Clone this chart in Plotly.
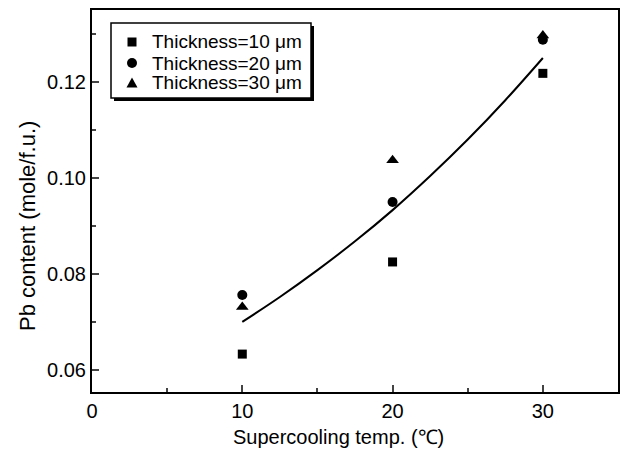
import plotly.graph_objects as go

temps = [10, 20, 30]
pb_10um = [0.0633, 0.0825, 0.1218]
pb_20um = [0.0756, 0.0950, 0.1288]
pb_30um = [0.0731, 0.1037, 0.1297]

fit_x = [10, 12.5, 15, 17.5, 20, 22.5, 25, 27.5, 30]
fit_y = [0.0700, 0.0752, 0.0808, 0.0868, 0.0933, 0.1004, 0.1080, 0.1162, 0.1250]

names = ["Thickness=10 \u03bcm", "Thickness=20 \u03bcm", "Thickness=30 \u03bcm"]
x_title = "Supercooling temp. (\u2103)"
y_title = "Pb content (mole/f.u.)"

FONT = "Arial, Liberation Sans, Helvetica, sans-serif"

fig = go.Figure()
fig.add_trace(go.Scatter(x=fit_x, y=fit_y, mode="lines", line=dict(color="black", width=2, shape="spline"),
                         showlegend=False, hoverinfo="skip"))
fig.add_trace(go.Scatter(x=temps, y=pb_10um, mode="markers", name=names[0],
                         marker=dict(symbol="square", size=9, color="black")))
fig.add_trace(go.Scatter(x=temps, y=pb_20um, mode="markers", name=names[1],
                         marker=dict(symbol="circle", size=10, color="black")))
fig.add_trace(go.Scatter(x=temps, y=pb_30um, mode="markers", name=names[2],
                         marker=dict(symbol="triangle-up", size=11, color="black")))

L, R, T, B = 92, 4, 10, 58
W, H = 622, 450
pw, ph = W - L - R, H - T - B

def px(x):
    return (x - L) / pw

def py(y):
    return (H - B - y) / ph

# legend drawn as a boxed key with drop shadow
shapes = [
    dict(type="rect", xref="paper", yref="paper", x0=px(114), x1=px(314), y0=py(101), y1=py(26),
         fillcolor="black", line=dict(width=0), layer="above"),
    dict(type="rect", xref="paper", yref="paper", x0=px(111), x1=px(311), y0=py(98), y1=py(23),
         fillcolor="white", line=dict(color="black", width=1.5), layer="above"),
]
row_y = [42, 63, 83]
kx = 132
# square key
shapes.append(dict(type="rect", xref="paper", yref="paper", x0=px(kx - 4.5), x1=px(kx + 4.5),
                   y0=py(row_y[0] + 4.5), y1=py(row_y[0] - 4.5), fillcolor="black", line=dict(width=0),
                   layer="above"))
# circle key
shapes.append(dict(type="circle", xref="paper", yref="paper", x0=px(kx - 5), x1=px(kx + 5),
                   y0=py(row_y[1] + 5), y1=py(row_y[1] - 5), fillcolor="black", line=dict(width=0),
                   layer="above"))
# triangle key
ty = row_y[2]
tri = "M {:.5f},{:.5f} L {:.5f},{:.5f} L {:.5f},{:.5f} Z".format(
    px(kx - 5.5), py(ty + 4.5), px(kx + 5.5), py(ty + 4.5), px(kx), py(ty - 5.5))
shapes.append(dict(type="path", xref="paper", yref="paper", path=tri, fillcolor="black",
                   line=dict(width=0), layer="above"))

annotations = []
for name, ry in zip(names, row_y):
    annotations.append(dict(text=name, xref="paper", yref="paper", x=px(150), y=py(ry),
                            xanchor="left", yanchor="middle", showarrow=False,
                            font=dict(size=19, family=FONT, color="black")))
annotations.append(dict(text=x_title, xref="paper", yref="paper", x=px(338), y=py(437),
                        xanchor="center", yanchor="middle", showarrow=False,
                        font=dict(size=20, family=FONT, color="black")))
annotations.append(dict(text=y_title, xref="paper", yref="paper", x=px(28), y=py(226),
                        xanchor="center", yanchor="middle", showarrow=False, textangle=-90,
                        font=dict(size=22, family=FONT, color="black")))

fig.update_layout(
    width=W, height=H,
    margin=dict(l=L, r=R, t=T, b=B, autoexpand=False),
    paper_bgcolor="white", plot_bgcolor="white",
    font=dict(family=FONT, size=16, color="black"),
    showlegend=False,
    shapes=shapes,
    annotations=annotations,
    xaxis=dict(range=[0, 35], tickvals=[0, 10, 20, 30], ticks="inside", ticklen=7, tickwidth=2,
               showline=True, linecolor="black", linewidth=2, mirror=True, showgrid=False, zeroline=False,
               tickfont=dict(size=20), automargin=False,
               minor=dict(ticks="inside", ticklen=4, tickwidth=1.5, dtick=5, tick0=0, showgrid=False)),
    yaxis=dict(range=[0.0554, 0.135], tickvals=[0.06, 0.08, 0.10, 0.12], tickformat=".2f",
               ticks="inside", ticklen=7, tickwidth=2, automargin=False,
               showline=True, linecolor="black", linewidth=2, mirror=True, showgrid=False, zeroline=False,
               tickfont=dict(size=20),
               minor=dict(ticks="inside", ticklen=4, tickwidth=1.5, dtick=0.01, tick0=0.06, showgrid=False)),
)

fig.write_html("out.html", config={"displayModeBar": False},
               post_script="document.body.style.margin='0px';document.body.style.overflow='hidden';")
